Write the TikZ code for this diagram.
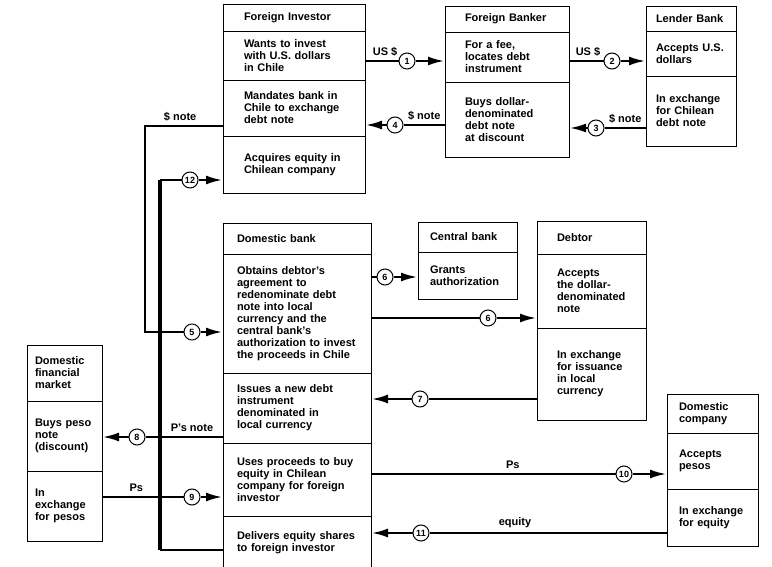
\documentclass[tikz,border=0pt]{standalone}
\usepackage{fontspec}
\setmainfont{Liberation Sans}
\usetikzlibrary{arrows.meta,positioning}

\begin{document}
\begin{tikzpicture}[x=1pt, y=-1pt, node distance=0pt,
  cell/.style={draw, line width=0.9pt, outer sep=0pt, align=left, anchor=north west,
    font=\bfseries\fontsize{11}{12}\selectfont},
  investor/.style={cell, text width=100pt, inner xsep=21pt},
  banker/.style={cell, text width=84pt, inner xsep=20pt},
  lender/.style={cell, text width=70pt, inner xsep=10pt},
  dombank/.style={cell, text width=120pt, inner xsep=14pt},
  cenbank/.style={cell, text width=75pt, inner xsep=12pt},
  debtor/.style={cell, text width=69pt, inner xsep=20pt},
  market/.style={cell, text width=59pt, inner xsep=8pt},
  company/.style={cell, text width=67pt, inner xsep=12pt},
  num/.style={circle, draw, fill=white, line width=1pt, minimum size=16pt, inner sep=0pt,
    font=\bfseries\fontsize{9}{9}\selectfont},
  flow/.style={line width=2pt},
  tip/.style={flow, shorten >=1pt, -{Latex[length=16pt,width=9pt]}},
  lbl/.style={above=4pt, inner sep=0pt, font=\bfseries\fontsize{11}{12}\selectfont}]
\useasboundingbox (0,0) rectangle (772,567);

\node [investor, minimum height=27] (fi) at (223,4) {Foreign Investor};
\node [investor, minimum height=49, below=of fi] (fi1) {Wants to invest\\with U.S. dollars\\in Chile};
\node [investor, minimum height=56, below=of fi1] (fi2) {Mandates bank in\\Chile to exchange\\debt note};
\node [investor, minimum height=57, below=of fi2] (fi3) {Acquires equity in\\Chilean company};

\node [banker, minimum height=26] (fb) at (445,6) {Foreign Banker};
\node [banker, minimum height=50, below=of fb] (fb1) {For a fee,\\locates debt\\instrument};
\node [banker, minimum height=75, below=of fb1] (fb2) {Buys dollar-\\denominated\\debt note\\at discount};

\node [lender, minimum height=25] (lb) at (646,6) {Lender Bank};
\node [lender, minimum height=45, below=of lb] (lb1) {Accepts U.S.\\dollars};
\node [lender, minimum height=70, below=of lb1] (lb2) {In exchange\\for Chilean\\debt note};

\node [dombank, minimum height=31] (db) at (223,223) {Domestic bank};
\node [dombank, minimum height=119, below=of db] (db1) {Obtains debtor's\\agreement to\\redenominate debt\\note into local\\currency and the\\central bank's\\authorization to invest\\the proceeds in Chile};
\node [dombank, minimum height=70, below=of db1] (db2) {Issues a new debt\\instrument\\denominated in\\local currency};
\node [dombank, minimum height=73, below=of db2] (db3) {Uses proceeds to buy\\equity in Chilean\\company for foreign\\investor};
\node [dombank, minimum height=54, below=of db3] (db4) {Delivers equity shares\\to foreign investor};

\node [cenbank, minimum height=30] (cb) at (418,222) {Central bank};
\node [cenbank, minimum height=47, below=of cb] (cb1) {Grants\\authorization};

\node [debtor, minimum height=33] (dt) at (537,221) {Debtor};
\node [debtor, minimum height=74, below=of dt] (dt1) {Accepts\\the dollar-\\denominated\\note};
\node [debtor, minimum height=92, below=of dt1] (dt2) {In exchange\\for issuance\\in local\\currency};

\node [market, minimum height=56] (dfm) at (27,345) {Domestic\\financial\\market};
\node [market, minimum height=70, below=of dfm] (dfm1) {Buys peso\\note\\(discount)};
\node [market, minimum height=70, below=of dfm1] (dfm2) {In\\exchange\\for pesos};

\node [company, minimum height=39] (dc) at (667,394) {Domestic\\company};
\node [company, minimum height=56, below=of dc] (dc1) {Accepts\\pesos};
\node [company, minimum height=57, below=of dc1] (dc2) {In exchange\\for equity};

\node [num] (n1) at (407,61) {1};
\node [num] (n2) at (612,61) {2};
\node [num] (n3) at (596,128) {3};
\node [num] (n4) at (395,125) {4};
\node [num] (n5) at (192,332) {5};
\node [num] (n6a) at (385,277) {6};
\node [num] (n6b) at (488,318) {6};
\node [num] (n7) at (420,399) {7};
\node [num] (n8) at (137,437) {8};
\node [num] (n9) at (192,497) {9};
\node [num] (n10) at (624,474) {10};
\node [num] (n11) at (421,533) {11};
\node [num] (n12) at (190,180) {12};

\coordinate (s5) at (145,126);
\coordinate (bus top) at (160,180);
\coordinate (bus end) at (160,550);

\draw [flow] (n1 -| fi1.east) -- node [lbl, pos=0.6] {US \$} (n1);
\draw [tip] (n1) -- (n1 -| fb1.west);
\draw [flow] (n2 -| fb1.east) -- node [lbl, pos=0.55] {US \$} (n2);
\draw [tip] (n2) -- (n2 -| lb1.west);
\draw [flow] (n3 -| lb2.west) -- node [lbl] {\$ note} (n3);
\draw [tip] (n3) -- (n3 -| fb2.east);
\draw [flow] (n4 -| fb2.west) -- node [lbl] {\$ note} (n4);
\draw [tip] (n4) -- (n4 -| fi2.east);
\draw [flow] (s5 -| fi2.west) -- node [lbl, pos=0.55] {\$ note} (s5) |- (n5);
\draw [tip] (n5) -- (n5 -| db1.west);
\draw [flow] (n6a -| db1.east) -- (n6a);
\draw [tip] (n6a) -- (n6a -| cb1.west);
\draw [flow] (n6b -| db1.east) -- (n6b);
\draw [tip] (n6b) -- (n6b -| dt1.west);
\draw [flow] (n7 -| dt2.west) -- (n7);
\draw [tip] (n7) -- (n7 -| db2.east);
\draw [flow] (n8 -| db2.west) -- node [lbl, pos=0.4] {P's note} (n8);
\draw [tip] (n8) -- (n8 -| dfm1.east);
\draw [flow] (n9 -| dfm2.east) -- node [lbl, pos=0.42] {Ps} (n9);
\draw [tip] (n9) -- (n9 -| db3.west);
\draw [flow] (n10 -| db3.east) -- node [lbl, pos=0.58] {Ps} (n10);
\draw [tip] (n10) -- (n10 -| dc1.west);
\draw [flow] (n11 -| dc2.west) -- node [lbl, pos=0.64] {equity} (n11);
\draw [tip] (n11) -- (n11 -| db4.east);

\draw [line width=4pt] (bus top) -- (bus end);
\draw [flow] (bus top) -- (n12);
\draw [tip] (n12) -- (n12 -| fi3.west);
\draw [flow] (bus end) -- (bus end -| db4.west);
\end{tikzpicture}
\end{document}
